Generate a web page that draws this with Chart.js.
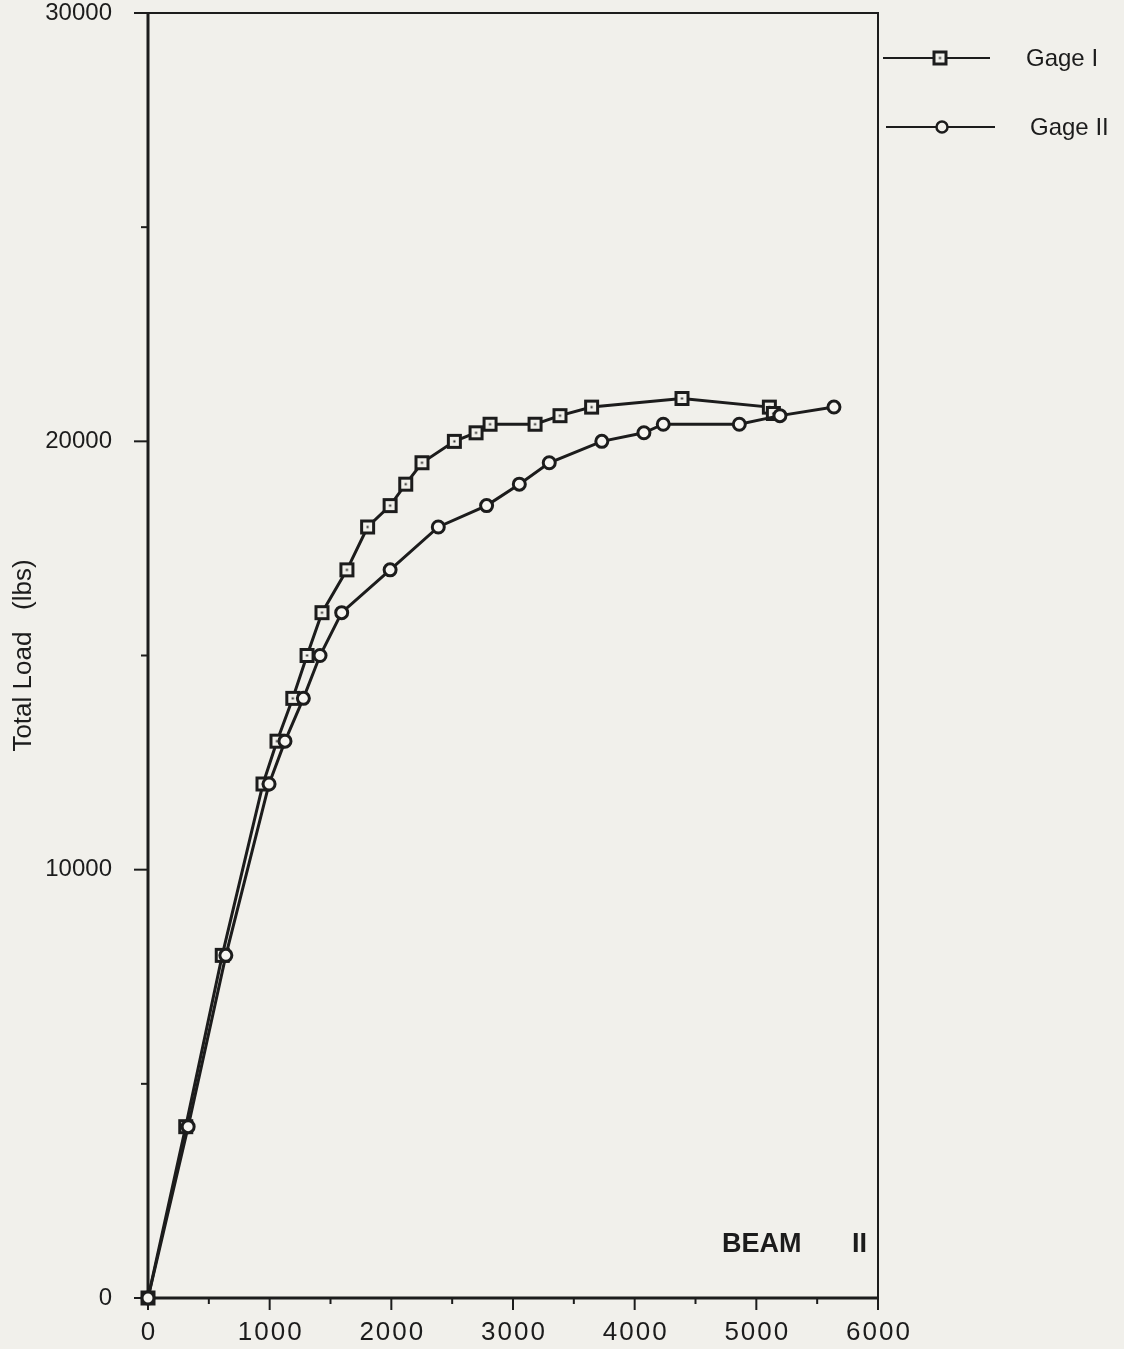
<!DOCTYPE html>
<html lang="en">
<head>
    <meta charset="UTF-8" />
    <title>Beam II - Total Load vs Strain</title>
    <script src="https://cdn.jsdelivr.net/npm/chart.js"></script>
    <style>
        body { margin: 0; background: #f1f0eb; }
        #loadChart { display: block; }
    </style>
</head>
<body>
    <canvas id="loadChart" width="1124" height="1349"></canvas>

    <script>
        // values
        const gage1Strain = [0, 310, 610, 945, 1060, 1190, 1307, 1430, 1635, 1805, 1990, 2118, 2252, 2518, 2696, 2811, 3181, 3386, 3646, 4389, 5107, 5140];
        const gage1Load   = [0, 4000, 8000, 12000, 13000, 14000, 15000, 16000, 17000, 18000, 18500, 19000, 19500, 20000, 20200, 20400, 20400, 20600, 20800, 21000, 20800, 20650];
        const gage2Strain = [0, 330, 640, 995, 1126, 1277, 1414, 1592, 1990, 2386, 2783, 3052, 3298, 3730, 4076, 4235, 4860, 5194, 5638];
        const gage2Load   = [0, 4000, 8000, 12000, 13000, 14000, 15000, 16000, 17000, 18000, 18500, 19000, 19500, 20000, 20200, 20400, 20400, 20600, 20800];

        const xTickLabels = [0, 1000, 2000, 3000, 4000, 5000, 6000];
        const yTickLabels = [0, 10000, 20000, 30000];
        const seriesNames = ['Gage I', 'Gage II'];

        const BG = '#f1f0eb';
        const INK = '#1c1c1c';
        const FONT = '"Liberation Sans", Arial, sans-serif';

        // square marker with a dot in the middle
        function squareMarker() {
            const c = document.createElement('canvas');
            c.width = 17; c.height = 17;
            const g = c.getContext('2d');
            g.fillStyle = BG;
            g.fillRect(2, 2, 13, 13);
            g.strokeStyle = INK;
            g.lineWidth = 3;
            g.strokeRect(2.5, 2.5, 12, 12);
            g.fillStyle = INK;
            g.fillRect(7.5, 7.5, 2, 2);
            return c;
        }
        const sq = squareMarker();

        const toPoints = (xs, ys) => xs.map((v, i) => ({ x: v, y: ys[i] }));

        const axesPlugin = {
            id: 'axesPlugin',
            beforeDraw(chart) {
                const ctx = chart.ctx;
                ctx.save();
                ctx.fillStyle = BG;
                ctx.fillRect(0, 0, chart.width, chart.height);
                ctx.restore();
            },
            beforeDatasetsDraw(chart) {
                const { ctx, chartArea: a, scales: { x, y } } = chart;
                ctx.save();
                ctx.strokeStyle = INK;
                ctx.lineCap = 'butt';

                ctx.lineWidth = 3;
                ctx.beginPath();
                ctx.moveTo(a.left, a.top);
                ctx.lineTo(a.left, a.bottom);
                ctx.lineTo(a.right, a.bottom);
                ctx.stroke();

                ctx.lineWidth = 2;
                ctx.beginPath();
                ctx.moveTo(a.left, a.top);
                ctx.lineTo(a.right, a.top);
                ctx.lineTo(a.right, a.bottom);
                ctx.stroke();

                ctx.lineWidth = 2;
                y.ticks.forEach(t => {
                    const py = y.getPixelForValue(t.value);
                    const len = yTickLabels.includes(t.value) ? 14 : 7;
                    ctx.beginPath();
                    ctx.moveTo(a.left - len, py);
                    ctx.lineTo(a.left, py);
                    ctx.stroke();
                });
                x.ticks.forEach(t => {
                    const px = x.getPixelForValue(t.value);
                    const len = xTickLabels.includes(t.value) ? 12 : 6;
                    ctx.beginPath();
                    ctx.moveTo(px, a.bottom);
                    ctx.lineTo(px, a.bottom + len);
                    ctx.stroke();
                });

                // x tick labels (spaced digits like the original)
                ctx.fillStyle = INK;
                ctx.font = '26px ' + FONT;
                ctx.letterSpacing = '2px';
                ctx.textAlign = 'center';
                ctx.textBaseline = 'top';
                xTickLabels.forEach(v => {
                    ctx.fillText(String(v), x.getPixelForValue(v) + 1, a.bottom + 22);
                });
                ctx.restore();
            },
            afterDraw(chart) {
                const { ctx, chartArea: a } = chart;
                ctx.save();
                ctx.strokeStyle = INK;
                ctx.fillStyle = INK;

                // legend at the right of the frame
                const rows = [
                    { y: 58, x0: a.right + 5, x1: a.right + 112, mx: a.right + 62, tx: a.right + 148 },
                    { y: 127, x0: a.right + 8, x1: a.right + 117, mx: a.right + 64, tx: a.right + 152 }
                ];
                rows.forEach((r, i) => {
                    ctx.lineWidth = 2;
                    ctx.beginPath();
                    ctx.moveTo(r.x0, r.y);
                    ctx.lineTo(r.x1, r.y);
                    ctx.stroke();
                    if (i === 0) {
                        ctx.drawImage(sq, r.mx - 8.5, r.y - 8.5);
                    } else {
                        ctx.beginPath();
                        ctx.arc(r.mx, r.y, 5.5, 0, Math.PI * 2);
                        ctx.fillStyle = BG;
                        ctx.fill();
                        ctx.lineWidth = 2.5;
                        ctx.stroke();
                        ctx.fillStyle = INK;
                    }
                    ctx.font = '24px ' + FONT;
                    ctx.textAlign = 'left';
                    ctx.textBaseline = 'middle';
                    ctx.fillText(seriesNames[i], r.tx, r.y + 1);
                });

                // beam label
                ctx.font = 'bold 27px ' + FONT;
                ctx.textBaseline = 'alphabetic';
                ctx.fillText('BEAM', a.right - 156, a.bottom - 46);
                ctx.fillText('II', a.right - 26, a.bottom - 46);
                ctx.restore();
            }
        };

        new Chart(document.getElementById('loadChart'), {
            type: 'line',
            data: {
                datasets: [
                    {
                        label: seriesNames[0],
                        data: toPoints(gage1Strain, gage1Load),
                        borderColor: INK,
                        borderWidth: 3,
                        pointStyle: sq,
                        pointRadius: 8,
                        clip: false,
                        order: 1
                    },
                    {
                        label: seriesNames[1],
                        data: toPoints(gage2Strain, gage2Load),
                        borderColor: INK,
                        borderWidth: 3,
                        pointStyle: 'circle',
                        pointRadius: 6,
                        pointBorderWidth: 3,
                        pointBackgroundColor: '#f6f5f1',
                        pointBorderColor: INK,
                        clip: false,
                        order: 0
                    }
                ]
            },
            options: {
                responsive: false,
                animation: false,
                events: [],
                layout: { padding: { top: 13, right: 246, left: 0, bottom: 0 } },
                elements: { line: { tension: 0 } },
                plugins: {
                    legend: { display: false },
                    tooltip: { enabled: false }
                },
                scales: {
                    x: {
                        type: 'linear',
                        min: 0,
                        max: 6000,
                        grid: { display: false },
                        border: { display: false },
                        ticks: { stepSize: 500, display: false },
                        afterFit: s => { s.height = 51; s.paddingLeft = 0; s.paddingRight = 0; }
                    },
                    y: {
                        type: 'linear',
                        min: 0,
                        max: 30000,
                        grid: { display: false },
                        border: { display: false },
                        ticks: {
                            stepSize: 5000,
                            padding: 28,
                            color: INK,
                            font: { family: FONT, size: 24, lineHeight: 1 },
                            callback: v => yTickLabels.includes(v) ? String(v) : ''
                        },
                        title: {
                            display: true,
                            text: 'Total Load   (lbs)',
                            color: INK,
                            font: { family: FONT, size: 26 },
                            padding: { top: 8, bottom: 0 }
                        },
                        afterFit: s => { s.width = 148; s.paddingTop = 0; s.paddingBottom = 0; }
                    }
                }
            },
            plugins: [axesPlugin]
        });
    </script>
</body>
</html>
